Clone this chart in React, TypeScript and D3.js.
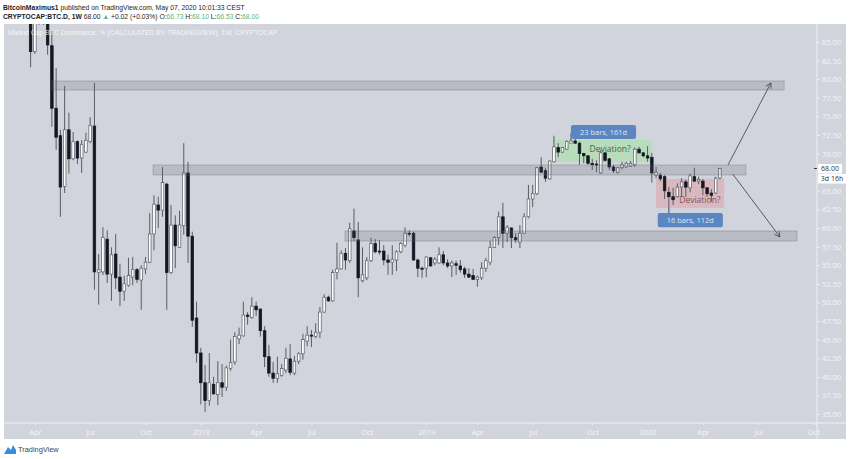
import * as d3 from 'd3';
import React, { useEffect, useRef } from 'react';

// weekly BTC dominance bars, first bar is the week of 27 Mar 2017
const firstWeek = new Date(2017, 2, 27);

const opens = [
  88, 83.7, 88, 89, 88.5, 84.5, 76.1, 72.4, 65.6, 73.2,
  69.3, 71.6, 69.4, 70.2, 71.6, 73.7, 54, 54.1, 58.5, 53.8,
  56.5, 53.4, 51.5, 52.3, 53.4, 54.4, 53, 54.5, 55.4, 59.2,
  63.1, 62.4, 65.9, 54, 60.4, 57.4, 60.3, 67.4, 58.9, 47.9,
  43.2, 39.2, 36.8, 39, 37.6, 39.2, 38.6, 41.1, 42, 45.1,
  45.5, 48.3, 48, 49.5, 49.1, 46.2, 42.7, 40.5, 39.8, 40.2,
  40.9, 42.4, 40.5, 42.1, 43.1, 44.8, 45.6, 45.4, 46, 48.7,
  50.7, 50.2, 54, 54.5, 56.6, 55.6, 59.6, 58.4, 52.9, 53.3,
  55.6, 57.9, 56.9, 56.9, 55.7, 55.4, 55.7, 56.8, 57.7, 59.3,
  59.3, 55.7, 54.6, 54.6, 56, 55.3, 55.3, 56.4, 55.3, 54.9,
  55.2, 54.9, 54.5, 53.8, 53.6, 53.1, 53.3, 54.6, 55.4, 57.4,
  58.7, 61.5, 59.3, 60, 58.7, 58.1, 59.3, 61.5, 63.9, 64.6,
  68.2, 67.7, 66.6, 68.9, 70.8, 70.2, 70.6, 71.4, 71.7, 71.4,
  70, 69.7, 68.7, 68.6, 67.4, 70.1, 69.3, 68.2, 67.5, 68.1,
  68.2, 68.3, 68.5, 70.6, 70.1, 69.7, 69.5, 67.1, 67.1, 66.9,
  64.8, 64.2, 64.2, 65.5, 66.2, 65.4, 66.9, 66.3, 66.3, 65.4,
  64.7, 64.7, 66.73,
];
const highs = [
  88.6, 89.3, 90, 90, 90, 86.6, 81.5, 73.2, 79.1, 75.5,
  72.9, 71.8, 71.8, 72.8, 74.9, 79.5, 56.5, 60.1, 59.7, 57.4,
  59.2, 55.2, 53.6, 56, 56.1, 54.6, 55, 56.1, 62, 64.4,
  64.2, 68.2, 66.1, 63.1, 61.7, 62.3, 71.4, 68.9, 59.5, 50.1,
  43.9, 41.6, 43.2, 40, 42.1, 41.7, 41.5, 45, 46, 46.6,
  50.1, 48.7, 50.7, 50.1, 49.2, 46.8, 44.3, 42, 42.7, 41.7,
  43.9, 44.4, 42.8, 43.3, 45.8, 46.8, 46.3, 47.2, 49.4, 51.1,
  50.9, 54.4, 58, 57, 57.3, 60.7, 62.6, 60.8, 57.4, 56.1,
  58.7, 58.5, 58.4, 57.7, 56.4, 57.7, 57, 58.1, 60.1, 59.7,
  59.5, 55.9, 54.8, 56.2, 56.1, 56.1, 57.4, 56.9, 55.8, 55.6,
  55.6, 55.7, 54.8, 54.6, 54.5, 53.6, 55.4, 56, 58.3, 58.9,
  62.2, 63.4, 60.4, 60.1, 59.3, 60.4, 62, 65.8, 65.8, 68.2,
  69.5, 68.1, 69.1, 72.4, 71.4, 70.9, 71.8, 72.8, 72.4, 71.6,
  70.1, 69.8, 69.3, 69.1, 70.5, 70.2, 69.4, 68.5, 68.2, 68.9,
  68.9, 69, 70.8, 70.9, 70.2, 71, 70.1, 68.2, 67.4, 67.1,
  65.5, 65.4, 66, 66.7, 66.5, 67.3, 68.1, 66.9, 66.6, 65.5,
  65.2, 66.9, 68.1,
];
const lows = [
  81.6, 83.4, 87.3, 87.3, 83.3, 73.6, 70.5, 61.5, 64.7, 67.3,
  69.1, 68.6, 67.4, 70.1, 71.4, 51.7, 49.7, 53.7, 52.6, 50.2,
  51.8, 49.5, 50.2, 52.1, 52.3, 52.6, 49, 53.8, 55.3, 57,
  60, 61.5, 49, 53.8, 54.6, 57.3, 59.1, 55.3, 46.7, 41.9,
  36.3, 35.3, 36.1, 37.6, 36.2, 37.3, 38.1, 40.8, 41.6, 44.4,
  45.4, 47, 47.8, 48.2, 45.4, 41.3, 40, 39.2, 39.2, 40,
  40.5, 40.2, 40.2, 41.7, 42.3, 44.1, 44, 45.2, 45.2, 48.6,
  50.1, 50.1, 53.1, 54.4, 54.4, 55.3, 58.2, 50.7, 52.7, 53,
  55.4, 56.6, 56.4, 55, 53.7, 53.7, 54.2, 56.6, 57.4, 58.9,
  55.6, 53.4, 53.3, 53.4, 54.8, 55, 55.2, 55, 54.6, 53.4,
  53.7, 54, 53.3, 53.3, 53, 52.1, 53, 54.1, 55, 57.3,
  57.7, 57.3, 58.1, 57.3, 58, 57.3, 59.2, 61.3, 62.8, 64.4,
  67.4, 66.2, 66.5, 68.8, 69.5, 70.1, 70.5, 71.4, 71.3, 68.5,
  68.7, 68.5, 67.8, 67.5, 67.3, 68.9, 67.8, 67.4, 67.3, 67.9,
  68.1, 68.2, 68.2, 70, 69.5, 68.9, 66.1, 66.7, 66.3, 63.9,
  62, 63.1, 64.1, 64.2, 64.2, 64.8, 66.2, 65.9, 64.4, 64.2,
  63.5, 64.6, 66.53,
];
const closes = [
  83.7, 88, 89, 88, 84.6, 76.1, 72.2, 65.5, 73.2, 69.3,
  71.6, 69.4, 71.2, 71.8, 73.8, 54.1, 54.4, 58.7, 53.8, 56.4,
  53.3, 51.5, 52.5, 53.6, 54.4, 53.1, 54.6, 55.4, 59.2, 63.2,
  62.4, 66.1, 54, 60.4, 57.6, 60.4, 67.4, 58.9, 47.6, 43.2,
  39.2, 36.8, 39.2, 37.7, 39.2, 38.6, 41.2, 41.9, 45.4, 45.6,
  48.3, 48.1, 49.5, 49, 46.2, 42.7, 40.5, 39.8, 40.4, 41.1,
  42.5, 40.6, 42.1, 43.1, 45, 45.6, 45.5, 46, 48.7, 50.7,
  50.2, 54, 54.5, 56.6, 55.7, 59.9, 58.7, 53.3, 53.7, 55.6,
  57.9, 56.8, 56.8, 55.7, 55.4, 55.8, 56.8, 57.9, 59.3, 59.2,
  55.7, 54.6, 54.5, 56.1, 54.9, 55.8, 56.4, 55.3, 54.9, 55.3,
  55, 54.4, 53.8, 53.4, 53.1, 53.4, 54.6, 55.6, 57.4, 58.7,
  61.5, 59.3, 60.1, 58.7, 58.4, 59.3, 61.5, 63.9, 64.6, 68.1,
  67.5, 66.7, 69, 70.9, 70.2, 70.8, 71.6, 71.7, 71.4, 70,
  69.7, 68.7, 68.5, 68.5, 70.1, 69.1, 68.2, 67.7, 68.1, 68.5,
  68.7, 68.7, 70.6, 70.1, 69.7, 69.4, 67.4, 67.5, 66.6, 65,
  64.2, 63.8, 65.5, 66.2, 65.5, 67, 66.3, 66.5, 65.4, 64.6,
  64.4, 66.7, 68,
];

// 67.50 is hidden behind the last price tag on the original
const priceTicks = d3.range(35, 85.1, 2.5).filter(v => v !== 67.5);
const timeTickDates = [
  new Date(2017, 3, 3), new Date(2017, 6, 3), new Date(2017, 9, 2),
  new Date(2018, 0, 1), new Date(2018, 3, 2), new Date(2018, 6, 2), new Date(2018, 9, 1),
  new Date(2019, 0, 7), new Date(2019, 3, 1), new Date(2019, 6, 1), new Date(2019, 9, 7),
  new Date(2020, 0, 6), new Date(2020, 3, 6), new Date(2020, 6, 6), new Date(2020, 9, 5),
];
const timeTickLabels = ['Apr', 'Jul', 'Oct', '2018', 'Apr', 'Jul', 'Oct', '2019', 'Apr', 'Jul', 'Oct', '2020', 'Apr', 'Jul', 'Oct'];

// drawings, in bar numbers and percent
const zoneStarts = [5, 28.8, 73.9];
const zoneEnds = [177.1, 168.1, 180.1];
const zoneTops = [79.76, 68.47, 59.6];
const zoneBottoms = [78.55, 67.13, 58.25];
const arrowFrom = [[163.9, 68.47], [165, 67.26]];
const arrowTo = [[174, 79.5], [176.1, 58.8]];

const barDate = (i: number) => new Date(firstWeek.getTime() + i * 7 * 864e5);

const App: React.FC = () => {
  const svgRef = useRef<SVGSVGElement>(null);

  useEffect(() => {
    if (!svgRef.current) return;
    const svg = d3.select(svgRef.current);
    svg.selectAll('*').remove();

    const font = '"Open Sans", "Liberation Sans", sans-serif';
    const headFont = '"Liberation Sans", sans-serif';
    const plot = { left: 4, right: 817, top: 24, bottom: 423, outerRight: 846, outerBottom: 439 };

    const x = d3.scaleTime().domain([firstWeek, barDate(162)]).range([30.6, 719.9]);
    const y = d3.scaleLinear().domain([35, 85]).range([414, 42]);
    const bx = (i: number) => x(barDate(i));

    svg.append('rect').attr('x', plot.left).attr('y', plot.top)
      .attr('width', plot.outerRight - plot.left).attr('height', plot.outerBottom - plot.top)
      .attr('fill', '#d1d4dc');

    svg.append('defs').append('clipPath').attr('id', 'plot-clip').append('rect')
      .attr('x', plot.left).attr('y', plot.top)
      .attr('width', plot.right - plot.left).attr('height', plot.bottom - plot.top);

    const g = svg.append('g').attr('clip-path', 'url(#plot-clip)');

    // green and red deviation boxes go under the bars
    const box = (a: number, b: number, top: number, bottom: number, fill: string) =>
      g.append('rect').attr('x', bx(a)).attr('width', bx(b) - bx(a))
        .attr('y', y(top)).attr('height', y(bottom) - y(top)).attr('fill', fill);
    box(122.8, 146, 71.83, 68.9, '#b8dcbc');
    box(147, 163, 66.6, 62.7, '#d9b9bf');

    // bars
    const bars = d3.range(opens.length);
    g.selectAll('.wick').data(bars).enter().append('line')
      .attr('x1', i => bx(i)).attr('x2', i => bx(i))
      .attr('y1', i => y(highs[i])).attr('y2', i => y(lows[i]))
      .attr('stroke', '#5a5c64').attr('stroke-width', 1);
    g.selectAll('.body').data(bars).enter().append('rect')
      .attr('x', i => bx(i) - 1.3).attr('width', 2.6)
      .attr('y', i => y(Math.max(opens[i], closes[i])))
      .attr('height', i => Math.max(1, Math.abs(y(opens[i]) - y(closes[i]))))
      .attr('fill', i => (closes[i] >= opens[i] ? '#ffffff' : '#131722'))
      .attr('stroke', i => (closes[i] >= opens[i] ? '#5a5c64' : '#131722'))
      .attr('stroke-width', 0.7);

    // support / resistance zones
    g.selectAll('.zone').data(zoneStarts).enter().append('rect')
      .attr('x', (_, i) => bx(zoneStarts[i]))
      .attr('width', (_, i) => bx(zoneEnds[i]) - bx(zoneStarts[i]))
      .attr('y', (_, i) => y(zoneTops[i]))
      .attr('height', (_, i) => y(zoneBottoms[i]) - y(zoneTops[i]))
      .attr('fill', 'rgba(92,95,105,0.2)')
      .attr('stroke', 'rgba(92,95,105,0.32)').attr('stroke-width', 1);

    // arrows
    arrowFrom.forEach((from, i) => {
      const to = arrowTo[i];
      const x1 = bx(from[0]), y1 = y(from[1]), x2 = bx(to[0]), y2 = y(to[1]);
      g.append('line').attr('x1', x1).attr('y1', y1).attr('x2', x2).attr('y2', y2)
        .attr('stroke', '#4a4c54').attr('stroke-width', 0.9);
      const angle = Math.atan2(y2 - y1, x2 - x1);
      [0.5, -0.5].forEach(d => {
        g.append('line').attr('x1', x2).attr('y1', y2)
          .attr('x2', x2 - 6 * Math.cos(angle + d)).attr('y2', y2 - 6 * Math.sin(angle + d))
          .attr('stroke', '#4a4c54').attr('stroke-width', 0.9);
      });
    });

    // bar count labels
    const countLabel = (a: number, b: number, top: number, bottom: number, stem: number, stemTo: number, text: string) => {
      g.append('line').attr('x1', bx(stem)).attr('x2', bx(stem))
        .attr('y1', y(top > stemTo ? bottom : top)).attr('y2', y(stemTo))
        .attr('stroke', '#6a7f9f').attr('stroke-width', 1);
      g.append('rect').attr('x', bx(a)).attr('width', bx(b) - bx(a))
        .attr('y', y(top)).attr('height', y(bottom) - y(top)).attr('rx', 2)
        .attr('fill', '#5b86c2');
      g.append('text').attr('x', (bx(a) + bx(b)) / 2).attr('y', (y(top) + y(bottom)) / 2 + 3)
        .attr('text-anchor', 'middle').attr('font-family', font).attr('font-size', 7.5)
        .attr('fill', '#dfe8f5').text(text);
    };
    countLabel(127, 142.3, 73.85, 71.97, 127, 71.83, '23 bars, 161d');
    countLabel(147.4, 162.7, 62, 60.1, 150, 62.7, '16 bars, 112d');

    g.append('text').attr('x', bx(136.2)).attr('y', y(70.2)).attr('text-anchor', 'middle')
      .attr('font-family', font).attr('font-size', 8.5).attr('fill', '#3f6a49').text('Deviation?');
    g.append('text').attr('x', bx(157.3)).attr('y', y(63.4)).attr('text-anchor', 'middle')
      .attr('font-family', font).attr('font-size', 8.5).attr('fill', '#85505a').text('Deviation?');

    // axes
    const yAxis = svg.append('g').attr('transform', `translate(${plot.right},0)`)
      .call(d3.axisRight(y).tickValues(priceTicks).tickFormat(d3.format('.2f') as any).tickSize(3).tickPadding(2));
    const xAxis = svg.append('g').attr('transform', `translate(0,${plot.bottom})`)
      .call(d3.axisBottom(x).tickValues(timeTickDates)
        .tickFormat((_, i) => timeTickLabels[i]).tickSize(2).tickPadding(5));
    [yAxis, xAxis].forEach(a => {
      a.selectAll('.domain').remove();
      a.selectAll('line').attr('stroke', '#eef0f4');
      a.selectAll('text').attr('fill', '#f4f5f8').attr('font-family', font).attr('font-size', 7.5);
    });
    svg.append('line').attr('x1', plot.right).attr('x2', plot.right)
      .attr('y1', plot.top).attr('y2', plot.outerBottom).attr('stroke', '#eef0f4');
    svg.append('line').attr('x1', plot.left).attr('x2', plot.outerRight)
      .attr('y1', plot.bottom).attr('y2', plot.bottom).attr('stroke', '#eef0f4');

    // last price tag
    const lastY = y(closes[closes.length - 1]);
    svg.append('rect').attr('x', plot.right + 1).attr('y', lastY - 4.5).attr('width', 24).attr('height', 9.5).attr('fill', '#fff');
    svg.append('rect').attr('x', plot.right + 1).attr('y', lastY + 5.5).attr('width', 28).attr('height', 9.5).attr('fill', '#fff');
    svg.append('line').attr('x1', plot.right - 3).attr('x2', plot.right).attr('y1', lastY).attr('y2', lastY).attr('stroke', '#333');
    svg.append('text').attr('x', plot.right + 13).attr('y', lastY + 2.5).attr('text-anchor', 'middle')
      .attr('font-family', font).attr('font-size', 7).attr('fill', '#333').text('68.00');
    svg.append('text').attr('x', plot.right + 15).attr('y', lastY + 13).attr('text-anchor', 'middle')
      .attr('font-family', font).attr('font-size', 7).attr('fill', '#333').text('3d 16h');

    // chart title and header
    svg.append('text').attr('x', 8).attr('y', 35).attr('font-family', headFont).attr('font-size', 6.85)
      .attr('fill', '#ffffff').attr('fill-opacity', 0.8)
      .text('Market Cap BTC Dominance, % (CALCULATED BY TRADINGVIEW), 1W, CRYPTOCAP');

    const header = svg.append('text').attr('x', 3).attr('y', 9.5).attr('font-family', headFont).attr('font-size', 6.75).attr('fill', '#222');
    header.append('tspan').attr('font-weight', 700).text('BitcoinMaximus1');
    header.append('tspan').text(' published on TradingView.com, May 07, 2020 10:01:33 CEST');

    const teal = '#53b987';
    const quote = svg.append('text').attr('x', 3).attr('y', 18.5).attr('font-family', headFont).attr('font-size', 6.75).attr('fill', '#222');
    quote.append('tspan').attr('font-weight', 700).text('CRYPTOCAP:BTC.D, 1W');
    quote.append('tspan').text('  68.00 ');
    quote.append('tspan').attr('fill', teal).text('▲');
    quote.append('tspan').text(' +0.02 (+0.03%) O:');
    quote.append('tspan').attr('fill', teal).text('66.73');
    quote.append('tspan').text(' H:');
    quote.append('tspan').attr('fill', teal).text('68.10');
    quote.append('tspan').text(' L:');
    quote.append('tspan').attr('fill', teal).text('66.53');
    quote.append('tspan').text(' C:');
    quote.append('tspan').attr('fill', teal).text('68.00');

    // TradingView mark
    svg.append('path').attr('d', 'M4 454 L8 447 L11 450 L13 445 L16 450 L16 454 Z').attr('fill', '#3a8bd8');
    svg.append('text').attr('x', 18).attr('y', 452).attr('font-family', headFont).attr('font-size', 7.4)
      .attr('fill', '#444').text('TradingView');
  }, []);

  return (
    <>
      <style>{'body{margin:0;background:#fff}'}</style>
      <svg ref={svgRef} width={850} height={459} style={{ display: 'block' }} />
    </>
  );
};

export default App;
